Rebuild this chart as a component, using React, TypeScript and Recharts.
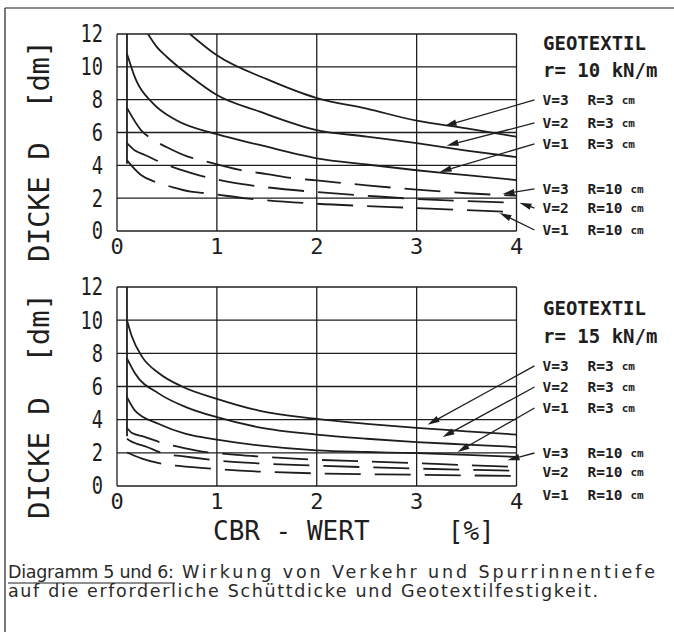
import React from "react";
import { LineChart, Line, XAxis, YAxis, CartesianGrid, ReferenceLine } from "recharts";

const INK = "#1e1e1e";
const MONO = '"DejaVu Sans Mono", monospace';
const SANS = '"DejaVu Sans", "Liberation Sans", sans-serif';

const X_TICKS = [0, 1, 2, 3, 4];
const Y_TICKS = [0, 2, 4, 6, 8, 10, 12];

type Pt = { x: number; y: number };

// Diagramm 5: Geotextil r = 10 kN/m
const r10_limit: Pt[] = [{ x: 0.1, y: 12 }, { x: 0.1, y: 4.1 }];
const r10_v3r3: Pt[] = [
  { x: 0.73, y: 12 }, { x: 1, y: 10.7 }, { x: 1.5, y: 9.25 }, { x: 2, y: 8.1 },
  { x: 2.5, y: 7.45 }, { x: 3, y: 6.72 }, { x: 3.5, y: 6.25 }, { x: 4, y: 5.74 },
];
const r10_v2r3: Pt[] = [
  { x: 0.31, y: 12 }, { x: 0.4, y: 11.2 }, { x: 0.5, y: 10.6 }, { x: 0.75, y: 9.35 },
  { x: 1, y: 8.28 }, { x: 1.43, y: 7.27 }, { x: 2, y: 6.15 }, { x: 2.5, y: 5.75 },
  { x: 3, y: 5.35 }, { x: 3.5, y: 4.9 }, { x: 4, y: 4.5 },
];
const r10_v1r3: Pt[] = [
  { x: 0.1, y: 10.8 }, { x: 0.19, y: 9.2 }, { x: 0.36, y: 7.78 }, { x: 0.59, y: 6.76 },
  { x: 1, y: 5.9 }, { x: 1.43, y: 5.24 }, { x: 2, y: 4.43 }, { x: 2.5, y: 4.05 },
  { x: 3, y: 3.7 }, { x: 3.5, y: 3.4 }, { x: 4, y: 3.1 },
];
const r10_v3r10: Pt[] = [
  { x: 0.1, y: 7.5 }, { x: 0.24, y: 6.15 }, { x: 0.34, y: 5.64 }, { x: 0.5, y: 5.1 },
  { x: 0.71, y: 4.53 }, { x: 0.84, y: 4.32 }, { x: 1.23, y: 3.72 }, { x: 1.5, y: 3.47 },
  { x: 1.78, y: 3.21 }, { x: 2, y: 3.08 }, { x: 2.5, y: 2.78 }, { x: 3, y: 2.52 },
  { x: 3.5, y: 2.3 }, { x: 4, y: 2.15 },
];
const r10_v2r10: Pt[] = [
  { x: 0.1, y: 5.35 }, { x: 0.18, y: 4.9 }, { x: 0.28, y: 4.63 }, { x: 0.45, y: 4.15 },
  { x: 0.64, y: 3.72 }, { x: 0.78, y: 3.47 }, { x: 1.16, y: 2.94 }, { x: 1.5, y: 2.66 },
  { x: 2, y: 2.37 }, { x: 2.5, y: 2.15 }, { x: 3, y: 1.95 }, { x: 3.5, y: 1.82 }, { x: 4, y: 1.72 },
];
const r10_v1r10: Pt[] = [
  { x: 0.1, y: 4.3 }, { x: 0.24, y: 3.41 }, { x: 0.38, y: 3.0 }, { x: 0.55, y: 2.68 },
  { x: 0.74, y: 2.4 }, { x: 0.91, y: 2.29 }, { x: 1.29, y: 1.99 }, { x: 1.5, y: 1.87 },
  { x: 2, y: 1.66 }, { x: 2.5, y: 1.52 }, { x: 3, y: 1.4 }, { x: 3.5, y: 1.27 }, { x: 4, y: 1.15 },
];

// Diagramm 6: Geotextil r = 15 kN/m
const r15_limit: Pt[] = [{ x: 0.1, y: 12 }, { x: 0.1, y: 3.0 }];
const r15_v3r3: Pt[] = [
  { x: 0.1, y: 10.0 }, { x: 0.15, y: 9.0 }, { x: 0.25, y: 7.8 }, { x: 0.42, y: 6.8 },
  { x: 0.65, y: 6.0 }, { x: 1, y: 5.26 }, { x: 1.42, y: 4.55 }, { x: 2, y: 4.05 },
  { x: 2.5, y: 3.75 }, { x: 3, y: 3.5 }, { x: 3.5, y: 3.3 }, { x: 4, y: 3.1 },
];
const r15_v2r3: Pt[] = [
  { x: 0.1, y: 7.7 }, { x: 0.18, y: 6.8 }, { x: 0.42, y: 5.57 }, { x: 0.69, y: 4.76 },
  { x: 1, y: 4.15 }, { x: 1.42, y: 3.54 }, { x: 2, y: 3.1 }, { x: 2.5, y: 2.85 },
  { x: 3, y: 2.65 }, { x: 3.5, y: 2.5 }, { x: 4, y: 2.35 },
];
const r15_v1r3: Pt[] = [
  { x: 0.1, y: 5.36 }, { x: 0.18, y: 4.55 }, { x: 0.42, y: 3.74 }, { x: 0.69, y: 3.14 },
  { x: 1, y: 2.8 }, { x: 1.42, y: 2.45 }, { x: 2, y: 2.15 }, { x: 2.5, y: 2.05 },
  { x: 3, y: 1.98 }, { x: 3.5, y: 1.88 }, { x: 4, y: 1.75 },
];
const r15_v3r10: Pt[] = [
  { x: 0.1, y: 3.5 }, { x: 0.15, y: 3.2 }, { x: 0.27, y: 2.98 }, { x: 0.45, y: 2.6 },
  { x: 0.64, y: 2.33 }, { x: 0.8, y: 2.13 }, { x: 1.2, y: 1.88 }, { x: 1.5, y: 1.75 },
  { x: 2, y: 1.58 }, { x: 2.5, y: 1.48 }, { x: 3, y: 1.38 }, { x: 3.5, y: 1.25 }, { x: 4, y: 1.15 },
];
const r15_v2r10: Pt[] = [
  { x: 0.1, y: 2.85 }, { x: 0.13, y: 2.73 }, { x: 0.3, y: 2.35 }, { x: 0.49, y: 1.92 },
  { x: 0.65, y: 1.8 }, { x: 1.04, y: 1.52 }, { x: 1.4, y: 1.37 }, { x: 2, y: 1.23 },
  { x: 3, y: 1.05 }, { x: 4, y: 0.92 },
];
const r15_v1r10: Pt[] = [
  { x: 0.1, y: 2.02 }, { x: 0.25, y: 1.65 }, { x: 0.47, y: 1.32 }, { x: 0.62, y: 1.21 },
  { x: 1, y: 1.02 }, { x: 1.5, y: 0.85 }, { x: 2, y: 0.76 }, { x: 3, y: 0.68 }, { x: 4, y: 0.6 },
];

// labels right of the plot, with the point the arrow goes to (data units)
type Note = { v: string; r: string; labelY: number; to?: Pt };
const LABEL_X = 4.18;

const r10_notes: Note[] = [
  { v: "V=3", r: "R=3", labelY: 7.98, to: { x: 3.28, y: 6.4 } },
  { v: "V=2", r: "R=3", labelY: 6.58, to: { x: 3.3, y: 5.2 } },
  { v: "V=1", r: "R=3", labelY: 5.3, to: { x: 3.23, y: 3.6 } },
  { v: "V=3", r: "R=10", labelY: 2.56, to: { x: 3.86, y: 2.25 } },
  { v: "V=2", r: "R=10", labelY: 1.4, to: { x: 4.03, y: 1.72 } },
  { v: "V=1", r: "R=10", labelY: 0.06, to: { x: 3.83, y: 1.1 } },
];
const r15_notes: Note[] = [
  { v: "V=3", r: "R=3", labelY: 7.24, to: { x: 3.11, y: 3.7 } },
  { v: "V=2", r: "R=3", labelY: 5.97, to: { x: 3.26, y: 2.95 } },
  { v: "V=1", r: "R=3", labelY: 4.7, to: { x: 3.41, y: 2.05 } },
  { v: "V=3", r: "R=10", labelY: 1.99, to: { x: 3.91, y: 1.55 } },
  { v: "V=2", r: "R=10", labelY: 0.84 },
  { v: "V=1", r: "R=10", labelY: -0.54 },
];

const YTick = (props: any) => {
  const { x, y, payload } = props;
  return (
    <text
      x={0}
      y={0}
      transform={`translate(${x} ${y}) scale(0.78 1)`}
      textAnchor="end"
      dominantBaseline="central"
      fontFamily={MONO}
      fontSize={24}
      fill={INK}
    >
      {payload.value}
    </text>
  );
};

const XTick = (props: any) => {
  const { x, y, payload } = props;
  return (
    <text x={x} y={y + 15} textAnchor="middle" fontFamily={MONO} fontSize={22} fill={INK}>
      {payload.value}
    </text>
  );
};

const arrowShape = (note: Note) => (p: any) => {
  const { x1, y1, x2, y2 } = p;
  const dx = x2 - x1;
  const dy = y2 - y1;
  const len = Math.hypot(dx, dy);
  let arrow = null;
  if (note.to && len > 2) {
    const ux = dx / len;
    const uy = dy / len;
    const bx = x2 - ux * 12;
    const by = y2 - uy * 12;
    const px = -uy * 3.2;
    const py = ux * 3.2;
    arrow = (
      <g>
        <line x1={x1} y1={y1} x2={bx} y2={by} stroke={INK} strokeWidth={1.3} />
        <polygon points={`${x2},${y2} ${bx + px},${by + py} ${bx - px},${by - py}`} fill={INK} />
      </g>
    );
  }
  const tx = x1 + 8;
  return (
    <g>
      {arrow}
      <text
        x={tx}
        y={y1}
        dominantBaseline="central"
        fontFamily={MONO}
        fontSize={14.5}
        fontWeight="bold"
        fill={INK}
      >
        <tspan>{note.v}</tspan>
        <tspan x={tx + 45}>{note.r}</tspan>
        <tspan dx={8} fontSize={11}>cm</tspan>
      </text>
    </g>
  );
};

type Series = { data: Pt[]; dashed: boolean; key: string };

function Diagram({
  series,
  limit,
  notes,
  margin,
  height,
}: {
  series: Series[];
  limit: Pt[];
  notes: Note[];
  margin: { top: number; right: number; bottom: number; left: number };
  height: number;
}) {
  return (
    <LineChart width={674} height={height} margin={margin}>
      <CartesianGrid stroke={INK} strokeWidth={1.3} />
      <XAxis
        type="number"
        dataKey="x"
        domain={[0, 4]}
        ticks={X_TICKS}
        axisLine={false}
        tickLine={false}
        tick={XTick}
        height={30}
        allowDataOverflow
      />
      <YAxis
        type="number"
        dataKey="y"
        domain={[0, 12]}
        ticks={Y_TICKS}
        axisLine={false}
        tickLine={false}
        tickMargin={8}
        tick={YTick}
        width={60}
        allowDataOverflow
      />
      <Line
        data={limit}
        dataKey="y"
        type="linear"
        stroke={INK}
        strokeWidth={1.8}
        dot={false}
        isAnimationActive={false}
      />
      {series.map((s) => (
        <Line
          key={s.key}
          data={s.data}
          dataKey="y"
          type="monotone"
          stroke={INK}
          strokeWidth={1.8}
          strokeDasharray={s.dashed ? "36 14" : undefined}
          dot={false}
          isAnimationActive={false}
        />
      ))}
      {notes.map((n, i) => (
        <ReferenceLine
          key={i}
          segment={[
            { x: LABEL_X, y: n.labelY },
            n.to ? { x: n.to.x, y: n.to.y } : { x: LABEL_X, y: n.labelY },
          ]}
          ifOverflow="visible"
          shape={arrowShape(n)}
        />
      ))}
    </LineChart>
  );
}

const r10_series: Series[] = [
  { key: "v3r3", data: r10_v3r3, dashed: false },
  { key: "v2r3", data: r10_v2r3, dashed: false },
  { key: "v1r3", data: r10_v1r3, dashed: false },
  { key: "v3r10", data: r10_v3r10, dashed: true },
  { key: "v2r10", data: r10_v2r10, dashed: true },
  { key: "v1r10", data: r10_v1r10, dashed: true },
];
const r15_series: Series[] = [
  { key: "v3r3", data: r15_v3r3, dashed: false },
  { key: "v2r3", data: r15_v2r3, dashed: false },
  { key: "v1r3", data: r15_v1r3, dashed: false },
  { key: "v3r10", data: r15_v3r10, dashed: true },
  { key: "v2r10", data: r15_v2r10, dashed: true },
  { key: "v1r10", data: r15_v1r10, dashed: true },
];

export default function App() {
  return (
    <div
      style={{
        position: "absolute",
        left: 0,
        top: 0,
        width: 674,
        height: 632,
        background: "#fff",
        overflow: "hidden",
      }}
    >
      <div style={{ position: "absolute", left: 0, top: 0 }}>
        <Diagram
          series={r10_series}
          limit={r10_limit}
          notes={r10_notes}
          height={262}
          margin={{ top: 34, right: 157.5, bottom: 1, left: 57 }}
        />
      </div>
      <div style={{ position: "absolute", left: 0, top: 262 }}>
        <Diagram
          series={r15_series}
          limit={r15_limit}
          notes={r15_notes}
          height={262}
          margin={{ top: 25, right: 157.5, bottom: 8, left: 57 }}
        />
      </div>
      <svg
        width={674}
        height={632}
        style={{ position: "absolute", left: 0, top: 0, pointerEvents: "none" }}
      >
        <line x1={5} y1={8} x2={674} y2={8} stroke={INK} strokeWidth={1.2} />
        <line x1={5} y1={8} x2={5} y2={632} stroke={INK} strokeWidth={1.2} />

        <text
          transform="translate(39 151) rotate(-90)"
          textAnchor="middle"
          dominantBaseline="central"
          fontFamily={MONO}
          fontSize={29}
          fill={INK}
          textLength={222}
          lengthAdjust="spacing"
          style={{ whiteSpace: "pre" }}
        >
          DICKE D  [dm]
        </text>
        <text
          transform="translate(39 406) rotate(-90)"
          textAnchor="middle"
          dominantBaseline="central"
          fontFamily={MONO}
          fontSize={29}
          fill={INK}
          textLength={226}
          lengthAdjust="spacing"
          style={{ whiteSpace: "pre" }}
        >
          DICKE D  [dm]
        </text>

        <text
          x={213}
          y={540}
          fontFamily={MONO}
          fontSize={26}
          fill={INK}
          style={{ whiteSpace: "pre" }}
        >
          CBR - WERT     [%]
        </text>

        <g fontFamily={MONO} fontWeight="bold" fill={INK}>
          <text x={543} y={50} fontSize={19}>GEOTEXTIL</text>
          <text x={543} y={77} fontSize={19} style={{ whiteSpace: "pre" }}>r= 10 kN/m</text>
          <text x={543} y={315} fontSize={19}>GEOTEXTIL</text>
          <text x={543} y={343} fontSize={19} style={{ whiteSpace: "pre" }}>r= 15 kN/m</text>
        </g>

        <g fontFamily={SANS} fontSize={17.5} fill="#2a2a2a">
          <text x={8} y={578} textLength={166} lengthAdjust="spacing">
            Diagramm 5 und 6:
          </text>
          <text x={182} y={578} textLength={473} lengthAdjust="spacing">
            Wirkung von Verkehr und Spurrinnentiefe
          </text>
          <text x={8} y={597} textLength={590} lengthAdjust="spacing">
            auf die erforderliche Schüttdicke und Geotextilfestigkeit.
          </text>
        </g>
        <line x1={8} y1={583} x2={175} y2={583} stroke={INK} strokeWidth={1.2} />
      </svg>
    </div>
  );
}
